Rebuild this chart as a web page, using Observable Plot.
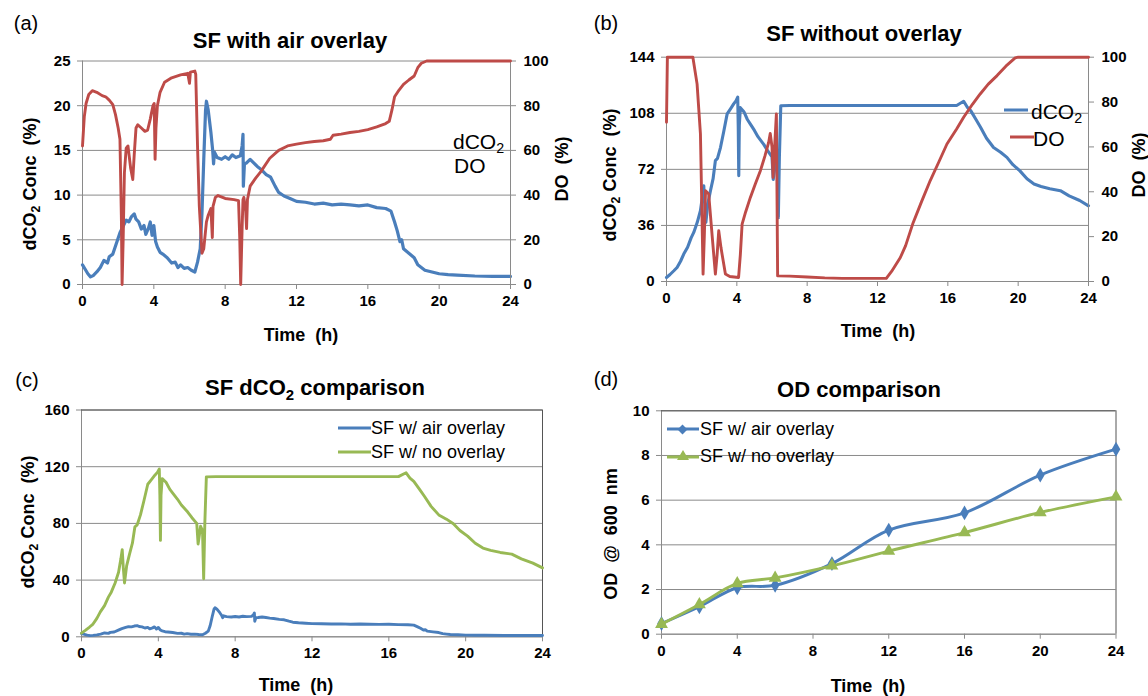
<!DOCTYPE html>
<html><head><meta charset="utf-8">
<script src="https://cdn.jsdelivr.net/npm/d3@7"></script>
<script src="https://cdn.jsdelivr.net/npm/@observablehq/plot@0.6"></script>
<style>
body{margin:0;background:#fff;}
#root{position:relative;width:1148px;height:696px;overflow:hidden;background:#fff;font-family:"Liberation Sans",Arial,Helvetica,sans-serif;color:#000;}
#root svg{position:absolute;left:0;top:0;pointer-events:none;}
.lbl{position:absolute;white-space:nowrap;line-height:1;transform:translate(-50%,-50%);}
.rot{transform:translate(-50%,-50%) rotate(-90deg);}
sub{font-size:0.68em;vertical-align:-0.32em;line-height:0;}
.leg{position:absolute;white-space:nowrap;line-height:1;transform:translateY(-50%);font-weight:normal;}
.sw{position:absolute;height:3px;transform:translateY(-50%);}
</style></head><body><div id="root"></div>
<script>
// ---------- DATA ----------
const timeTicks = [0, 4, 8, 12, 16, 20, 24];
const aCO2Ticks = [0, 5, 10, 15, 20, 25];
const bCO2Ticks = [0, 36, 72, 108, 144];
const doTicks = [0, 20, 40, 60, 80, 100];
const cCO2Ticks = [0, 40, 80, 120, 160];
const odTicks = [0, 2, 4, 6, 8, 10];

// (a) SF with air overlay : dCO2 (%) [time h, value]
const aCO2 = [[0,2.2],[0.15,1.7],[0.3,1.2],[0.45,0.85],[0.6,1.0],[0.8,1.4],[1.0,1.9],[1.2,2.7],[1.4,2.4],[1.5,3.1],[1.7,3.4],[1.95,4.9],[2.1,5.8],[2.3,6.6],[2.45,7.2],[2.6,7.0],[2.75,7.6],[2.9,7.9],[3.0,7.3],[3.15,7.0],[3.3,6.2],[3.45,6.6],[3.55,5.6],[3.7,6.3],[3.8,7.0],[3.9,5.5],[4.0,6.6],[4.1,4.8],[4.2,4.2],[4.35,3.6],[4.5,3.4],[4.75,3.0],[5.0,2.4],[5.2,2.5],[5.35,1.9],[5.5,2.2],[5.7,1.8],[5.9,1.9],[6.1,1.6],[6.3,1.4],[6.45,2.5],[6.6,4.0],[6.7,8],[6.8,14],[6.9,19.5],[6.95,20.5],[7.05,19.5],[7.2,17],[7.3,15],[7.35,13.5],[7.4,14.8],[7.55,14.2],[7.8,14.0],[8.0,14.3],[8.2,14.0],[8.4,14.5],[8.6,14.2],[8.85,14.4],[8.95,15.5],[9.0,16.8],[9.02,11.0],[9.08,13.5],[9.2,13.6],[9.4,14.0],[9.6,13.6],[9.8,13.2],[10.0,12.9],[10.3,12.3],[10.55,12.0],[10.8,11.0],[11.0,10.3],[11.3,9.9],[11.67,9.6],[12.0,9.3],[12.5,9.2],[13.0,9.0],[13.5,9.1],[14.0,8.9],[14.5,9.0],[15.0,8.9],[15.5,8.8],[16.0,8.9],[16.5,8.6],[17.0,8.5],[17.3,8.2],[17.5,7.0],[17.65,6.0],[17.8,4.8],[17.9,5.0],[18.0,4.0],[18.3,3.5],[18.6,3.0],[18.8,2.2],[19.0,1.9],[19.2,1.6],[19.6,1.4],[20.0,1.2],[20.5,1.1],[21,1.05],[22,0.95],[23,0.9],[24,0.9]];
// (a) DO (%)
const aDO = [[0,62],[0.1,75],[0.2,81],[0.35,85],[0.55,86.7],[0.8,86],[1.1,84.5],[1.3,84],[1.5,82.5],[1.7,80.5],[1.85,76],[2.0,70],[2.1,65],[2.18,30],[2.22,0],[2.28,20],[2.35,50],[2.45,61],[2.55,62],[2.7,52],[2.82,47],[2.9,58],[3.0,70],[3.1,71.5],[3.3,70],[3.5,68.5],[3.65,69],[3.8,74],[3.95,80],[4.02,81],[4.07,56],[4.12,70],[4.2,80],[4.35,86],[4.6,90.5],[5.0,92.5],[5.5,93.8],[5.9,94.5],[6.0,90],[6.05,95],[6.3,95.5],[6.35,94],[6.45,62],[6.55,35],[6.7,14],[6.8,16],[6.95,28],[7.05,31],[7.2,34],[7.28,21],[7.32,35],[7.45,39],[7.6,39.8],[8.0,38.5],[8.5,38],[8.75,37.5],[8.82,20],[8.87,0],[8.95,25],[9.0,38],[9.05,39],[9.15,33],[9.2,25],[9.25,38],[9.4,44],[9.7,47.5],[10.0,50.5],[10.5,56.5],[11.0,60],[11.5,62],[12.0,62.8],[12.5,63.5],[13.0,64],[13.5,64.3],[13.9,65],[14.05,66.8],[14.5,67.3],[15.0,68],[15.5,68.5],[16.0,69.3],[16.5,70.5],[17.0,72],[17.2,73],[17.35,78],[17.5,84],[17.75,87],[18.0,89.5],[18.3,91.5],[18.6,93.3],[18.8,97],[19.0,99],[19.3,100],[24,100]];

// (b) SF without overlay : dCO2 (%)
const bCO2 = [[0,2.6],[0.2,4.5],[0.42,6.9],[0.6,9],[0.8,13],[0.98,17.6],[1.2,22],[1.4,28],[1.55,31.5],[1.75,38],[1.93,45.5],[2.05,55],[2.12,61.5],[2.18,48],[2.24,38],[2.35,50],[2.5,58.3],[2.65,66],[2.78,77.6],[2.9,79],[3.07,86],[3.25,96],[3.45,107.6],[3.65,111],[3.82,114],[3.95,116],[4.05,118.3],[4.08,100],[4.11,68],[4.14,100],[4.2,111.6],[4.4,109],[4.6,104],[4.77,101],[5.0,97],[5.2,93],[5.4,90],[5.53,88],[5.75,84],[5.9,81.6],[6.0,80],[6.07,65.5],[6.12,70],[6.2,78],[6.3,75],[6.36,41],[6.42,80],[6.5,112.8],[7,113],[10,113],[14,113],[16.5,113],[16.9,115.7],[17.1,112],[17.3,109.7],[17.6,104],[17.86,99],[18.2,92],[18.6,86],[19.0,83],[19.36,79.7],[19.7,75],[20.1,71],[20.5,66],[20.9,62.6],[21.3,61],[21.8,59.5],[22.4,58.3],[22.9,55],[23.5,52],[24,48.6]];
// (b) DO (%)
const bDO = [[0,71],[0.05,100],[1.5,100],[1.74,88],[1.93,65.8],[2.08,3.3],[2.15,20],[2.22,40.5],[2.4,39],[2.6,20],[2.78,3.3],[2.88,12],[2.97,22.6],[3.1,15],[3.35,3.3],[3.6,2.2],[4.1,1.8],[4.2,12],[4.3,25.6],[4.5,31],[4.77,37.5],[5.05,43.5],[5.34,49.4],[5.6,56],[5.81,62],[5.9,66],[6.0,60],[6.06,46.4],[6.15,60],[6.25,74.7],[6.32,2.5],[7,2.4],[8,2.0],[9,1.6],[10,1.4],[11,1.4],[12,1.4],[12.5,1.4],[12.8,4.5],[13.3,10.7],[13.6,16],[14.0,25.6],[14.5,35.5],[15,45],[15.5,53.5],[15.95,61.3],[16.5,68],[16.9,73.2],[17.4,79],[17.84,83.6],[18.3,88],[18.8,91.8],[19.3,96],[19.83,99.7],[20,100],[24,100]];

// (d) OD comparison
const odTime = [0, 2, 4, 6, 9, 12, 16, 20, 24];
const odAir = [0.48, 1.23, 2.08, 2.19, 3.16, 4.66, 5.43, 7.12, 8.28];
const odNone = [0.45, 1.33, 2.27, 2.52, 3.06, 3.72, 4.55, 5.45, 6.15];

// ---------- STYLE ----------
const BLUE = "#4a7ebb", RED = "#be4b48", GREEN = "#98b954";
const GRID = "#8a8a8a", AX = "#8a8a8a", FRAME = "#555555";
const FONT = "'Liberation Sans', Arial, Helvetica, sans-serif";
const W = 1148, H = 696;

const pts = arr => arr.map(([t, v]) => ({t, v}));
const root = document.getElementById("root");

function makePlot(box, yDomain, marks, xOpts = {}) {
  const svg = Plot.plot({
    width: W, height: H,
    marginLeft: box.l, marginRight: W - box.r, marginTop: box.t, marginBottom: H - box.b,
    x: {domain: [0, 24], ...xOpts},
    y: {domain: yDomain},
    style: {background: "transparent", fontFamily: FONT, fontSize: "15px", fontWeight: "bold", color: "#000", overflow: "visible"},
    marks
  });
  root.appendChild(svg);
}

function baseMarks(yTicks, yDomain) {
  return [
    Plot.gridY({ticks: yTicks, stroke: GRID, strokeOpacity: 1, strokeWidth: 1}),
    Plot.ruleX([0], {stroke: AX, strokeWidth: 1}),
    Plot.ruleY([yDomain[0]], {stroke: AX, strokeWidth: 1}),
    Plot.axisY({ticks: yTicks, tickSize: 5, tickPadding: 7, label: null, stroke: AX}),
    Plot.axisX({ticks: timeTicks, tickSize: 5, tickPadding: 6, label: null, stroke: AX})
  ];
}

// panel boxes (plot areas)
const boxA = {l: 82, r: 510, t: 60.5, b: 284};
const boxB = {l: 666, r: 1088, t: 56.7, b: 281};
const boxC = {l: 81, r: 542, t: 409.5, b: 636.3};
const boxD = {l: 661, r: 1115.5, t: 410.3, b: 633.7};

// (a)
makePlot(boxA, [0, 25], [
  ...baseMarks(aCO2Ticks, [0, 25]),
  Plot.line(pts(aCO2), {x: "t", y: "v", stroke: BLUE, strokeWidth: 3.2})
]);
makePlot(boxA, [0, 100], [
  Plot.ruleX([24], {stroke: AX}),
  Plot.axisY({anchor: "right", ticks: doTicks, tickSize: 5, tickPadding: 8, label: null, stroke: AX}),
  Plot.line(pts(aDO), {x: "t", y: "v", stroke: RED, strokeWidth: 2.9})
], {axis: null});

// (b)
makePlot(boxB, [0, 144], [
  ...baseMarks(bCO2Ticks, [0, 144]),
  Plot.line(pts(bCO2), {x: "t", y: "v", stroke: BLUE, strokeWidth: 3.1})
]);
makePlot(boxB, [0, 100], [
  Plot.ruleX([24], {stroke: AX}),
  Plot.axisY({anchor: "right", ticks: doTicks, tickSize: 5, tickPadding: 8, label: null, stroke: AX}),
  Plot.line(pts(bDO), {x: "t", y: "v", stroke: RED, strokeWidth: 2.9})
], {axis: null});

// (c)
makePlot(boxC, [0, 160], [
  ...baseMarks(cCO2Ticks, [0, 160]),
  Plot.ruleY([160], {stroke: FRAME}),
  Plot.ruleX([24], {stroke: FRAME}),
  Plot.line(pts(aCO2), {x: "t", y: "v", stroke: BLUE, strokeWidth: 2.9}),
  Plot.line(pts(bCO2), {x: "t", y: "v", stroke: GREEN, strokeWidth: 2.9})
]);

// (d)
const odA = odTime.map((t, i) => ({t, v: odAir[i]}));
const odN = odTime.map((t, i) => ({t, v: odNone[i]}));
makePlot(boxD, [0, 10], [
  ...baseMarks(odTicks, [0, 10]),
  Plot.ruleY([10], {stroke: FRAME}),
  Plot.ruleX([24], {stroke: FRAME}),
  Plot.line(odA, {x: "t", y: "v", stroke: BLUE, strokeWidth: 2.9, curve: "catmull-rom"}),
  Plot.dot(odA, {x: "t", y: "v", symbol: "diamond", r: 4.5, fill: BLUE}),
  Plot.line(odN, {x: "t", y: "v", stroke: GREEN, strokeWidth: 2.9, curve: "catmull-rom"}),
  Plot.dot(odN, {x: "t", y: "v", symbol: "triangle", r: 4.8, fill: GREEN})
]);

// ---------- TEXT ----------
function lbl(html, x, y, size, weight = "bold", rot = false) {
  const d = document.createElement("div");
  d.className = "lbl" + (rot ? " rot" : "");
  d.style.left = x + "px"; d.style.top = y + "px";
  d.style.fontSize = size + "px"; d.style.fontWeight = weight;
  d.innerHTML = html;
  root.appendChild(d);
}
function leg(html, x, y, size) {
  const d = document.createElement("div");
  d.className = "leg";
  d.style.left = x + "px"; d.style.top = y + "px"; d.style.fontSize = size + "px";
  d.innerHTML = html;
  root.appendChild(d);
}
function swatch(x1, x2, y, color) {
  const d = document.createElement("div");
  d.className = "sw";
  d.style.left = x1 + "px"; d.style.top = y + "px"; d.style.width = (x2 - x1) + "px"; d.style.background = color;
  root.appendChild(d);
}
function marker(x, y, color, kind) {
  const d = document.createElement("div");
  d.style.position = "absolute";
  if (kind === "diamond") {
    d.style.left = (x - 3.5) + "px"; d.style.top = (y - 3.5) + "px";
    d.style.width = "7px"; d.style.height = "7px"; d.style.background = color;
    d.style.transform = "rotate(45deg)";
  } else {
    d.style.left = (x - 6) + "px"; d.style.top = (y - 6) + "px";
    d.style.width = "0"; d.style.height = "0";
    d.style.borderLeft = "6px solid transparent"; d.style.borderRight = "6px solid transparent";
    d.style.borderBottom = "10px solid " + color;
  }
  root.appendChild(d);
}

const CO2 = "dCO<sub>2</sub>";
// (a)
lbl("(a)", 26, 23, 20, "normal");
lbl("SF with air overlay", 290, 41, 22);
lbl(CO2 + " Conc&nbsp; (%)", 30, 184, 18, "bold", true);
lbl("Time&nbsp; (h)", 301, 335, 18);
lbl("DO&nbsp; (%)", 562, 169, 18, "bold", true);
leg(CO2, 453, 141, 21);
leg("DO", 454, 165, 21);
// (b)
lbl("(b)", 606, 23, 20, "normal");
lbl("SF without overlay", 864, 34, 22);
lbl(CO2 + " Conc&nbsp; (%)", 610, 175, 18, "bold", true);
lbl("Time&nbsp; (h)", 878, 331, 18);
lbl("DO&nbsp; (%)", 1139, 165, 18, "bold", true);
swatch(1004, 1028, 110, BLUE); leg(CO2, 1031, 111, 21);
swatch(1010, 1034, 137, RED); leg("DO", 1033, 138, 21);
// (c)
lbl("(c)", 27, 380, 20, "normal");
lbl("SF " + CO2 + " comparison", 315, 388, 22);
lbl(CO2 + " Conc&nbsp; (%)", 28, 522, 18, "bold", true);
lbl("Time&nbsp; (h)", 296, 685, 18);
swatch(338, 371, 427.5, BLUE); leg("SF w/ air overlay", 371, 428, 18);
swatch(338, 371, 451.5, GREEN); leg("SF w/ no overlay", 371, 452, 18);
// (d)
lbl("(d)", 606, 379, 20, "normal");
lbl("OD comparison", 859, 390, 22);
lbl("OD&nbsp; @&nbsp; 600&nbsp; nm", 611, 534, 18, "bold", true);
lbl("Time&nbsp; (h)", 868, 686, 18);
swatch(667, 699, 429, BLUE); marker(682, 429, BLUE, "diamond"); leg("SF w/ air overlay", 700, 429, 18);
swatch(667, 699, 456.5, GREEN); marker(683, 456, GREEN, "triangle"); leg("SF w/ no overlay", 700, 456, 18);
</script></body></html>
